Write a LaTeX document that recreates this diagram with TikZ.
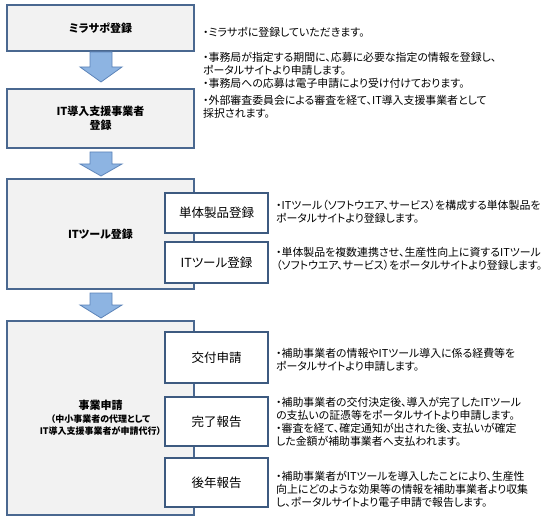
\documentclass[tikz,border=0pt]{standalone}
\usepackage{fontspec}
\setmainfont{Noto Sans CJK JP}[RawFeature=+palt]
\usetikzlibrary{positioning}
\definecolor{boxline}{HTML}{4A6890}
\definecolor{subline}{HTML}{3D5A80}
\definecolor{boxfill}{HTML}{F2F2F2}
\definecolor{arrfill}{HTML}{8DB4E2}
\definecolor{arrline}{HTML}{5B83B8}
\tikzset{
  mainbox/.style={draw=boxline, line width=1.3pt, fill=boxfill, minimum width=187pt, inner sep=0pt, align=center, font=\fontsize{11}{13.5}\selectfont\bfseries},
  subbox/.style={draw=subline, line width=1.8pt, fill=white, minimum width=103pt, inner sep=0pt, align=center, font=\fontsize{12.5}{14}\selectfont},
  desc/.style={anchor=west, align=left, inner sep=0pt, font=\fontsize{10.9}{12.9}\selectfont},
  blockarrow/.style={draw=arrline, line width=0.8pt, fill=arrfill, line join=miter}
}
\begin{document}
\begin{tikzpicture}[x=1pt,y=-1pt]
\useasboundingbox (0,0) rectangle (548,521);
% main boxes
\node[mainbox, minimum height=46pt] (b1) at (100.5,28) {ミラサポ登録};
\node[mainbox, minimum height=59pt] (b2) at (100.5,118.5) {IT導入支援事業者\\登録};
\node[mainbox, minimum height=110pt] (b3) at (100.5,234) {ITツール登録};
\node[mainbox, minimum height=194pt] (b4) at (100.5,418) {事業申請\\[-1pt]{\fontsize{9}{12}\selectfont （中小事業者の代理として}\\[-1pt]{\fontsize{9}{12}\selectfont IT導入支援事業者が申請代行）}};
% sub boxes
\node[subbox, minimum height=40pt] (s1) at (216.5,213) {単体製品登録};
\node[subbox, minimum height=41pt] (s2) at (216.5,262.5) {ITツール登録};
\node[subbox, minimum height=51pt] (s3) at (216.5,357.5) {交付申請};
\node[subbox, minimum height=49pt] (s4) at (216.5,421.5) {完了報告};
\node[subbox, minimum height=49pt] (s5) at (216.5,482.5) {後年報告};
% block arrows
\draw[blockarrow] (90,52) -- (112,52) -- (112,67) -- (122,67) -- (101,82) -- (80,67) -- (90,67) -- cycle;
\draw[blockarrow] (90,152) -- (112,152) -- (112,164) -- (122,164) -- (101,176) -- (80,164) -- (90,164) -- cycle;
\draw[blockarrow] (90,293) -- (112,293) -- (112,305) -- (122,305) -- (101,318) -- (80,305) -- (90,305) -- cycle;
% descriptions
\node[desc] (t1) at (203,32) {・ミラサポに登録していただきます。};
\node[desc] (t2) at (203,70.5) {・事務局が指定する期間に、応募に必要な指定の情報を登録し、\\ポータルサイトより申請します。\\・事務局への応募は電子申請により受け付けております。};
\node[desc] (t3) at (203,107) {・外部審査委員会による審査を経て、IT導入支援事業者として\\採択されます。};
\node[desc] (t4) at (276,211.5) {・ITツール（ソフトウエア、サービス）を構成する単体製品を\\ポータルサイトより登録します。};
\node[desc] (t5) at (276,258.5) {・単体製品を複数連携させ、生産性向上に資するITツール\\（ソフトウエア、サービス）をポータルサイトより登録します。};
\node[desc] (t6) at (276,359.5) {・補助事業者の情報やITツール導入に係る経費等を\\ポータルサイトより申請します。};
\node[desc] (t7) at (276,421.5) {・補助事業者の交付決定後、導入が完了したITツール\\の支払いの証憑等をポータルサイトより申請します。\\・審査を経て、確定通知が出された後、支払いが確定\\した金額が補助事業者へ支払われます。};
\node[desc] (t8) at (276,489) {・補助事業者がITツールを導入したことにより、生産性\\向上にどのような効果等の情報を補助事業者より収集\\し、ポータルサイトより電子申請で報告します。};
\end{tikzpicture}
\end{document}
